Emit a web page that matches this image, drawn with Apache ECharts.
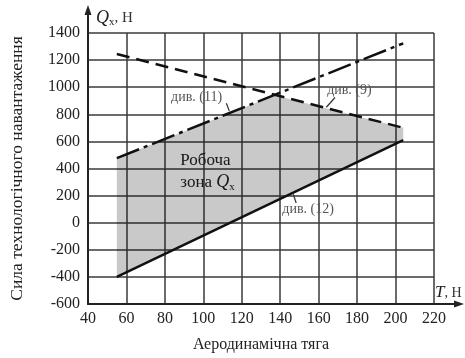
<!DOCTYPE html>
<html>
<head>
<meta charset="utf-8">
<script src="https://cdn.jsdelivr.net/npm/echarts@6/dist/echarts.min.js"></script>
<style>html,body{margin:0;padding:0;background:#fff}#c{width:465px;height:358px}</style>
</head>
<body>
<div id="c"></div>
<script>
// ---- data ----
const lineT = [55, 204];          // T, Н at the ends of the three lines
const div11Q = [1245, 700];       // dashed line "див. (11)"
const div9Q = [476, 1324];        // dash-dot line "див. (9)"
const div12Q = [-400, 610];       // solid line "див. (12)"
const zoneT = [55, 55, 137, 204, 204];      // working zone polygon, T
const zoneQ = [-400, 476, 940, 700, 610];   // working zone polygon, Q
const xTicks = {min: 40, max: 220, step: 20};
const yTicks = {min: -600, max: 1400, step: 200};

// ---- annotation anchors (data coordinates) ----
const notes = [
  {text: 'див. (11)', at: [96.5, 925], lead: [[112, 881], [113.5, 824]]},
  {text: 'див. (9)', at: [176, 974], lead: [[168.5, 924], [164, 852]]},
  {text: 'див. (12)', at: [154.5, 95], lead: [[146.8, 210], [148.3, 145]]}
];

(function () {
const serif = '"Liberation Serif", "DejaVu Serif", serif';
const chart = echarts.init(document.getElementById('c'));
const pair = (xs, ys) => xs.map((x, i) => [x, ys[i]]);
const plain = v => String(v);

chart.setOption({
  animation: false,
  grid: {left: 77, right: 31, top: 33, bottom: 45},
  xAxis: {
    type: 'value', min: xTicks.min, max: xTicks.max, interval: xTicks.step,
    name: 'Аеродинамічна тяга', nameLocation: 'middle', nameGap: 33,
    nameTextStyle: {fontFamily: serif, fontSize: 16, color: '#222'},
    axisLine: {show: true, onZero: false, lineStyle: {color: '#222', width: 2}},
    axisTick: {show: false},
    axisLabel: {fontFamily: serif, fontSize: 16, color: '#222', margin: 7, formatter: plain},
    splitLine: {show: true, lineStyle: {color: '#3a3a3a', width: 1.5}}
  },
  yAxis: {
    type: 'value', min: yTicks.min, max: yTicks.max, interval: yTicks.step,
    name: 'Сила технологічного навантаження', nameLocation: 'middle', nameGap: 62,
    nameTextStyle: {fontFamily: serif, fontSize: 17.5, color: '#222'},
    axisLine: {show: true, onZero: false, lineStyle: {color: '#222', width: 2}},
    axisTick: {show: false},
    axisLabel: {fontFamily: serif, fontSize: 16, color: '#222', margin: 8, formatter: plain},
    splitLine: {show: true, lineStyle: {color: '#3a3a3a', width: 1.5}}
  },
  series: [
    {
      type: 'custom', silent: true,
      data: [0],
      renderItem: function (params, api) {
        const pts = zoneT.map((t, i) => api.coord([t, zoneQ[i]]));
        return {type: 'polygon', shape: {points: pts}, style: {fill: 'rgba(0,0,0,0.21)'}};
      }
    },
    {type: 'line', data: pair(lineT, div11Q), symbol: 'none',
     lineStyle: {color: '#111', width: 2.5, type: [13, 7]}},
    {type: 'line', data: pair(lineT, div9Q), symbol: 'none',
     lineStyle: {color: '#111', width: 2.5, type: [24, 5, 4, 5]}},
    {type: 'line', data: pair(lineT, div12Q), symbol: 'none',
     lineStyle: {color: '#111', width: 2.5}}
  ]
});

const px = p => chart.convertToPixel({gridIndex: 0}, p);
const topPt = px([xTicks.min, yTicks.max]);
const rightPt = px([xTicks.max, yTicks.min]);
const g = [];
// axis extensions with arrows
g.push({type: 'line', shape: {x1: topPt[0], y1: topPt[1], x2: topPt[0], y2: 10}, style: {stroke: '#222', lineWidth: 2}});
g.push({type: 'polygon', shape: {points: [[topPt[0], 5], [topPt[0] - 3.5, 15], [topPt[0] + 3.5, 15]]}, style: {fill: '#222'}});
g.push({type: 'line', shape: {x1: rightPt[0], y1: rightPt[1], x2: 458, y2: rightPt[1]}, style: {stroke: '#222', lineWidth: 2}});
g.push({type: 'polygon', shape: {points: [[464, rightPt[1]], [454, rightPt[1] - 3.5], [454, rightPt[1] + 3.5]]}, style: {fill: '#222'}});
// axis symbols
g.push({type: 'text', x: topPt[0] + 8, y: 18, style: {
  text: '{q|Q}{s|x}{n|, Н}', textVerticalAlign: 'middle', textAlign: 'left',
  rich: {q: {fontFamily: serif, fontStyle: 'italic', fontSize: 18, fill: '#222'},
         s: {fontFamily: serif, fontSize: 11, fill: '#222', padding: [8, 0, 0, 0]},
         n: {fontFamily: serif, fontSize: 15, fill: '#333'}}}});
g.push({type: 'text', x: rightPt[0] + 1, y: rightPt[1] - 11, style: {
  text: '{t|T}{n|, Н}', textVerticalAlign: 'middle', textAlign: 'left',
  rich: {t: {fontFamily: serif, fontStyle: 'italic', fontSize: 17, fill: '#222'},
         n: {fontFamily: serif, fontSize: 14, fill: '#333'}}}});
// line labels with leaders
notes.forEach(n => {
  const c = px(n.at), a = px(n.lead[0]), b = px(n.lead[1]);
  g.push({type: 'text', x: c[0], y: c[1], style: {text: n.text, fontFamily: serif, fontSize: 14, fill: '#555', textAlign: 'center', textVerticalAlign: 'middle'}});
  g.push({type: 'line', shape: {x1: a[0], y1: a[1], x2: b[0], y2: b[1]}, style: {stroke: '#333', lineWidth: 1.2}});
});
// working zone label
const z1 = px([88, 459]), z2 = px([88, 295]);
g.push({type: 'text', x: z1[0], y: z1[1], style: {text: 'Робоча', fontFamily: serif, fontSize: 17, fill: '#222', textAlign: 'left', textVerticalAlign: 'middle'}});
g.push({type: 'text', x: z2[0], y: z2[1], style: {
  text: '{a|зона }{q|Q}{s|x}', textAlign: 'left', textVerticalAlign: 'middle',
  rich: {a: {fontFamily: serif, fontSize: 17, fill: '#222'},
         q: {fontFamily: serif, fontStyle: 'italic', fontSize: 18, fill: '#222'},
         s: {fontFamily: serif, fontSize: 11, fill: '#222', padding: [8, 0, 0, 0]}}}});
chart.setOption({graphic: g});
})();
</script>
</body>
</html>
